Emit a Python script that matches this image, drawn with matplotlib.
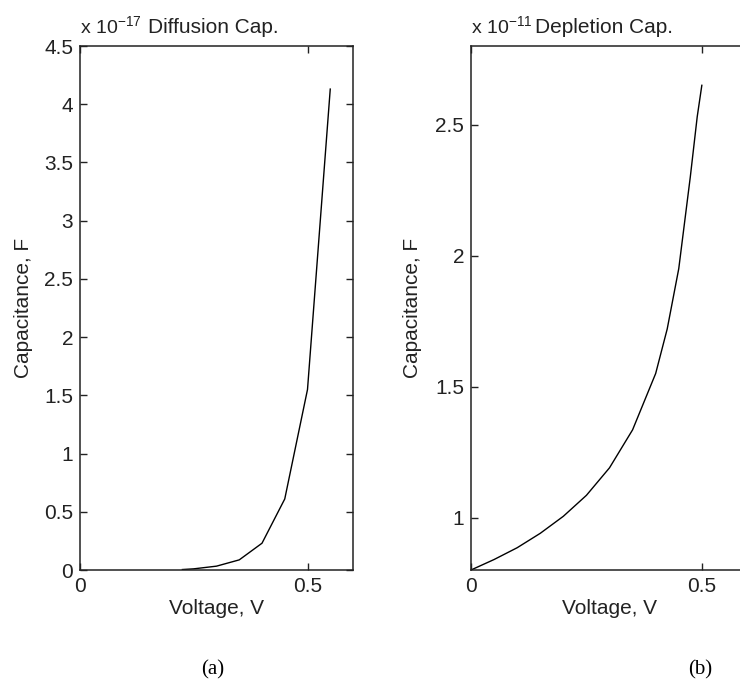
import matplotlib
matplotlib.use("Agg")
import matplotlib.pyplot as plt

# Diffusion capacitance (a), values in units of 1e-17 F
volt_a = [0.225, 0.25, 0.30, 0.35, 0.40, 0.45, 0.50, 0.55]
cap_a = [0.004, 0.010, 0.033, 0.087, 0.23, 0.61, 1.55, 4.13]

# Depletion capacitance (b), values in units of 1e-11 F
volt_b = [0.0, 0.05, 0.10, 0.15, 0.20, 0.25, 0.30, 0.35, 0.40, 0.425, 0.45, 0.475, 0.49, 0.50]
cap_b = [0.80, 0.84, 0.885, 0.94, 1.005, 1.085, 1.19, 1.335, 1.55, 1.72, 1.95, 2.30, 2.53, 2.65]

xticks = [0, 0.5]
xticklabels = ["0", "0.5"]
yticks_a = [0, 0.5, 1, 1.5, 2, 2.5, 3, 3.5, 4, 4.5]
yticklabels_a = ["0", "0.5", "1", "1.5", "2", "2.5", "3", "3.5", "4", "4.5"]
yticks_b = [1, 1.5, 2, 2.5]
yticklabels_b = ["1", "1.5", "2", "2.5"]

plt.rcParams['font.family'] = ['Liberation Sans', 'DejaVu Sans']
plt.rcParams['mathtext.fontset'] = 'custom'
plt.rcParams['mathtext.rm'] = 'Liberation Sans'
plt.rcParams['mathtext.it'] = 'Liberation Sans'
plt.rcParams['mathtext.bf'] = 'Liberation Sans'

FS = 15
TXT = '#222222'
W, H = 740, 699
fig = plt.figure(figsize=(W / 100, H / 100), dpi=100)

def px_axes(left, top, right, bottom):
    return [left / W, 1 - bottom / H, (right - left) / W, (bottom - top) / H]

ax1 = fig.add_axes(px_axes(80, 46, 353, 570))
ax2 = fig.add_axes(px_axes(471, 46, 748, 570))

for ax in (ax1, ax2):
    ax.tick_params(direction='in', length=5, width=1, top=True, right=True,
                   labelsize=FS, pad=5, colors=TXT)
    for s in ax.spines.values():
        s.set_linewidth(1.1)
        s.set_color(TXT)
    ax.set_xlim(0, 0.6)
    ax.set_xticks(xticks)
    ax.set_xticklabels(xticklabels)
    ax.set_xlabel("Voltage, V", fontsize=FS, color=TXT)
    ax.set_ylabel("Capacitance, F", fontsize=FS, color=TXT)

ax1.plot(volt_a, cap_a, color='black', lw=1.0)
ax1.set_ylim(0, 4.5)
ax1.set_yticks(yticks_a)
ax1.set_yticklabels(yticklabels_a)
ax1.yaxis.set_label_coords(-0.172, 0.5)
ax1.xaxis.set_label_coords(0.5, -0.055)
ax1.text(0.0, 1.025, r"x 10$^{-17}$", transform=ax1.transAxes, ha='left', va='baseline',
         fontsize=FS - 1, color=TXT)
ax1.text(0.25, 1.025, "Diffusion Cap.", transform=ax1.transAxes, ha='left', va='baseline',
         fontsize=FS, color=TXT)

ax2.plot(volt_b, cap_b, color='black', lw=1.0)
ax2.set_ylim(0.8, 2.8)
ax2.set_yticks(yticks_b)
ax2.set_yticklabels(yticklabels_b)
ax2.yaxis.set_label_coords(-0.177, 0.5)
ax2.xaxis.set_label_coords(0.5, -0.055)
ax2.text(0.0, 1.025, r"x 10$^{-11}$", transform=ax2.transAxes, ha='left', va='baseline',
         fontsize=FS - 1, color=TXT)
ax2.text(0.23, 1.025, "Depletion Cap.", transform=ax2.transAxes, ha='left', va='baseline',
         fontsize=FS, color=TXT)

fig.text(213 / W, 1 - 670 / H, "(a)", ha='center', va='center', fontsize=15,
         family='Liberation Serif')
fig.text(700 / W, 1 - 670 / H, "(b)", ha='center', va='center', fontsize=15,
         family='Liberation Serif')

fig.savefig("out.png", dpi=100)
